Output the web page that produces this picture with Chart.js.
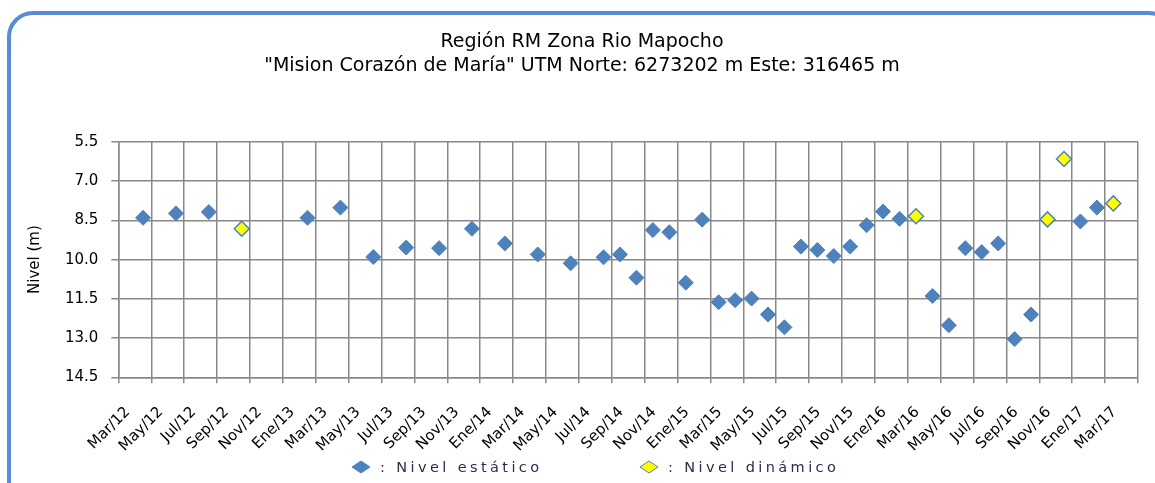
<!DOCTYPE html>
<html lang="es">
<head>
<meta charset="utf-8">
<title>Nivel de pozo - Mision Corazón de María</title>
<script src="https://cdn.jsdelivr.net/npm/chart.js@4/dist/chart.umd.min.js"></script>
<style>
  html, body { margin: 0; padding: 0; background: #ffffff; overflow: hidden; }
  #wrap { position: relative; width: 1155px; height: 483px; }
  #chart { position: absolute; left: 0; top: 0; }
  #frame {
    position: absolute; left: 7px; top: 11px; width: 1160px; height: 500px;
    border: 4px solid #558ed5; border-radius: 26px; pointer-events: none;
  }
</style>
</head>
<body>
<div id="wrap">
  <canvas id="chart" width="1155" height="483"></canvas>
  <div id="frame"></div>
</div>
<script>
// Axis labels, every two months
const xLabels = [
  'Mar/12','May/12','Jul/12','Sep/12','Nov/12','Ene/13','Mar/13','May/13','Jul/13','Sep/13','Nov/13',
  'Ene/14','Mar/14','May/14','Jul/14','Sep/14','Nov/14','Ene/15','Mar/15','May/15','Jul/15','Sep/15',
  'Nov/15','Ene/16','Mar/16','May/16','Jul/16','Sep/16','Nov/16','Ene/17','Mar/17'
];

// Static level measurements (m below surface)
const staticDates = [
  'Abr/12','Jun/12','Ago/12','Feb/13','Abr/13','Jun/13','Ago/13','Oct/13','Dic/13',
  'Feb/14','Abr/14','Jun/14','Ago/14','Sep/14','Oct/14','Nov/14','Dic/14',
  'Ene/15','Feb/15','Mar/15','Abr/15','May/15','Jun/15','Jul/15','Ago/15','Sep/15','Oct/15','Nov/15','Dic/15',
  'Ene/16','Feb/16','Abr/16','May/16','Jun/16','Jul/16','Ago/16','Sep/16','Oct/16',
  'Ene/17','Feb/17'
];
const staticLevels = [
  8.40, 8.23, 8.18, 8.40, 8.01, 9.90, 9.54, 9.56, 8.82,
  9.38, 9.80, 10.14, 9.91, 9.80, 10.69, 8.87, 8.95,
  10.88, 8.47, 11.63, 11.55, 11.49, 12.10, 12.59, 9.50, 9.63, 9.86, 9.50, 8.68,
  8.16, 8.44, 11.39, 12.51, 9.56, 9.71, 9.38, 13.04, 12.10,
  8.54, 8.01
];

// Dynamic level measurements (m below surface)
const dynamicDates = ['Oct/12','Mar/16','Nov/16','Dic/16','Mar/17'];
const dynamicLevels = [8.82, 8.34, 8.46, 6.15, 7.85];

// Y axis range
const yMin = 5.5, yMax = 14.5, yStep = 1.5;

const monthNames = ['Ene','Feb','Mar','Abr','May','Jun','Jul','Ago','Sep','Oct','Nov','Dic'];
// months elapsed since Mar/12
function monthIndex(label) {
  const [m, yy] = label.split('/');
  return (parseInt(yy, 10) - 12) * 12 + monthNames.indexOf(m) - 2;
}
function toPoints(dates, levels) {
  return dates.map((d, i) => ({ x: monthIndex(d), y: levels[i] }));
}

const FONT = "'DejaVu Sans', Verdana, sans-serif";
const GRID = '#888888';
const BLUE = '#4f81bd';
const YELLOW = '#ffff00';
const xMin = -0.5, xMax = xLabels.length * 2 - 0.5;

// legend drawn as a key row under the axis labels
const keyRow = {
  id: 'keyRow',
  afterDraw(chart) {
    const ctx = chart.ctx;
    const items = [
      { x: 361, fill: BLUE, stroke: BLUE, text: ': Nivel estático' },
      { x: 649, fill: YELLOW, stroke: BLUE, text: ': Nivel dinámico' }
    ];
    const y = 467;
    ctx.save();
    ctx.font = '14.5px ' + FONT;
    ctx.textBaseline = 'middle';
    items.forEach(it => {
      ctx.beginPath();
      ctx.moveTo(it.x - 9, y);
      ctx.lineTo(it.x, y - 6);
      ctx.lineTo(it.x + 9, y);
      ctx.lineTo(it.x, y + 6);
      ctx.closePath();
      ctx.fillStyle = it.fill;
      ctx.fill();
      ctx.lineWidth = 1;
      ctx.strokeStyle = it.stroke;
      ctx.stroke();
      ctx.fillStyle = '#35284a';
      // spread the characters a little, like the wide key font
      let cx = it.x + 19;
      for (const ch of it.text) {
        ctx.fillText(ch, cx, y + 1);
        cx += ctx.measureText(ch).width + 3.4;
      }
    });
    ctx.restore();
  }
};

new Chart(document.getElementById('chart'), {
  type: 'scatter',
  data: {
    datasets: [
      {
        label: 'Nivel estático',
        data: toPoints(staticDates, staticLevels),
        pointStyle: 'rectRot',
        pointRadius: 7.5,
        pointHoverRadius: 7.5,
        backgroundColor: BLUE,
        borderColor: BLUE,
        borderWidth: 1
      },
      {
        label: 'Nivel dinámico',
        data: toPoints(dynamicDates, dynamicLevels),
        pointStyle: 'rectRot',
        pointRadius: 7.5,
        pointHoverRadius: 7.5,
        backgroundColor: YELLOW,
        borderColor: BLUE,
        borderWidth: 1.5
      }
    ]
  },
  options: {
    responsive: false,
    animation: false,
    layout: { padding: { left: 26, right: 17, top: 30, bottom: 8 } },
    plugins: {
      legend: { display: false },
      tooltip: { enabled: false },
      title: {
        display: true,
        text: ['Región RM Zona Rio Mapocho', '"Mision Corazón de María" UTM Norte: 6273202 m Este: 316465 m'],
        color: '#000',
        font: { family: FONT, size: 19, weight: 'normal', lineHeight: 1.25 },
        padding: { top: 0, bottom: 64.5 }
      }
    },
    scales: {
      x: {
        type: 'linear',
        min: xMin,
        max: xMax,
        afterBuildTicks(scale) {
          const t = [];
          for (let v = xMin; v <= xMax + 1e-9; v += 1) t.push({ value: v });
          scale.ticks = t;
        },
        // rotated labels end at their tick, so no side padding is needed
        afterFit(scale) {
          scale.paddingLeft = 0;
          scale.paddingRight = 0;
        },
        grid: {
          color: ctx => (ctx.index % 2 === 0 ? GRID : 'rgba(0,0,0,0)'),
          lineWidth: 1.5,
          tickLength: 6,
          drawTicks: true
        },
        border: { color: GRID, width: 1.5 },
        ticks: {
          autoSkip: false,
          maxRotation: 45,
          minRotation: 45,
          padding: 20,
          labelOffset: -7,
          color: '#000',
          font: { family: FONT, size: 15 },
          callback: (value, index) => (index % 2 === 1 ? xLabels[(index - 1) / 2] : '')
        }
      },
      y: {
        reverse: true,
        min: yMin,
        max: yMax,
        afterBuildTicks(scale) {
          const t = [];
          for (let v = yMin; v <= yMax + 1e-9; v += yStep) t.push({ value: v });
          scale.ticks = t;
        },
        grid: { color: GRID, lineWidth: 1.5, tickLength: 7 },
        border: { color: GRID, width: 1.5 },
        ticks: {
          color: '#000',
          padding: 13,
          font: { family: FONT, size: 15 },
          callback: v => v.toFixed(1)
        },
        title: {
          display: true,
          text: 'Nivel (m)',
          color: '#000',
          font: { family: FONT, size: 15 },
          padding: { top: 0, bottom: 8 }
        }
      }
    }
  },
  plugins: [keyRow]
});
</script>
</body>
</html>
